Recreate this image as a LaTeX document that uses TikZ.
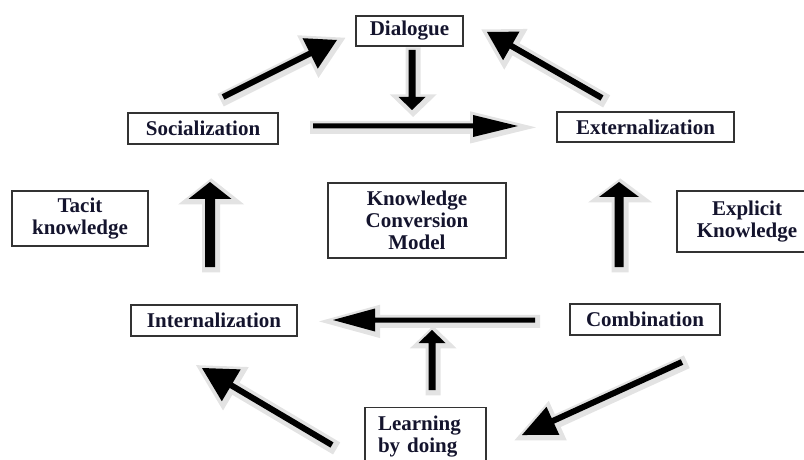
\documentclass[tikz,border=0pt]{standalone}
\usepackage{fontspec}
\setmainfont{Liberation Serif}
\usepackage{xcolor}
\usepackage{tikz}
\usetikzlibrary{calc}

\definecolor{boxtext}{RGB}{20,20,45}

\tikzset{
  box/.style={draw=black!80, line width=0.6pt, font=\fontsize{10.5}{11}\selectfont\bfseries,
    text=boxtext, align=center, inner sep=0pt},
  arrowbody/.style={fill=black, preaction={draw=gray!22, line width=4pt, line join=miter,
    transform canvas={shift={(0.6pt,-0.7pt)}}}}
}

% block arrow: tail, tip, half shaft, head length, half head
\newcommand{\fatarrow}[5]{%
  \coordinate (neck) at ($(#2)!#4!(#1)$);
  \path[arrowbody] ($(#1)!#3!90:(#2)$) -- ($(neck)!#3!-90:(#1)$) -- ($(neck)!#5!-90:(#1)$)
    -- (#2) -- ($(neck)!#5!90:(#1)$) -- ($(neck)!#3!90:(#1)$) -- ($(#1)!#3!-90:(#2)$) -- cycle;
}

\begin{document}
\begin{tikzpicture}[x=0.5pt, y=-0.5pt]
  \useasboundingbox (0,0) rectangle (804,460);

  % the four modes
  \node[box, minimum width=53.5pt, minimum height=15pt] (dia) at (409.5,31) {Dialogue};
  \node[box, minimum width=75pt, minimum height=15.5pt] (soc) at (203,128.5) {Socialization};
  \node[box, minimum width=88.5pt, minimum height=15pt] (ext) at (645.5,127) {Externalization};
  \node[box, minimum width=83pt, minimum height=15.5pt] (int) at (214,320.5) {Internalization};
  \node[box, minimum width=75pt, minimum height=15.5pt] (comb) at (645,319.5) {Combination};

  % side labels
  \node[box, minimum width=68pt, minimum height=27.5pt] (tacit) at (80,218.5) {Tacit\\knowledge};
  \node[box, minimum width=89pt, minimum height=37.5pt] (kcm) at (417,220.5) {Knowledge\\Conversion\\Model};
  \node[box, minimum width=70pt, minimum height=30.5pt] (expl) at (747,221.5) {Explicit\\Knowledge};
  \node[box, anchor=north, align=left, text width=47.5pt, inner xsep=6.5pt, inner ysep=4pt]
    (learn) at (425.5,407) {Learning\\by doing};

  % arrow ends
  \coordinate (s2d-a) at (223,97);   \coordinate (s2d-b) at (337,40);
  \coordinate (d2m-a) at (412,50);   \coordinate (d2m-b) at (412,110);
  \coordinate (s2e-a) at (313,126);  \coordinate (s2e-b) at (518,126);
  \coordinate (e2d-a) at (602,98);   \coordinate (e2d-b) at (487,32);
  \coordinate (c2e-a) at (619,267);  \coordinate (c2e-b) at (619,182);
  \coordinate (i2s-a) at (210,267);  \coordinate (i2s-b) at (210,182);
  \coordinate (c2i-a) at (535,320);  \coordinate (c2i-b) at (333,320);
  \coordinate (l2m-a) at (432,390);  \coordinate (l2m-b) at (432,330);
  \coordinate (c2l-a) at (682,362);  \coordinate (c2l-b) at (522,435);
  \coordinate (l2i-a) at (332,445);  \coordinate (l2i-b) at (202,368);

  % arrows
  \fatarrow{s2d-a}{s2d-b}{1.5pt}{15pt}{8.5pt}
  \fatarrow{d2m-a}{d2m-b}{1.75pt}{6.5pt}{6.75pt}
  \fatarrow{s2e-a}{s2e-b}{1.25pt}{22.5pt}{5.5pt}
  \fatarrow{e2d-a}{e2d-b}{1.5pt}{14pt}{8.25pt}
  \fatarrow{c2e-a}{c2e-b}{2.25pt}{7.5pt}{10pt}
  \fatarrow{i2s-a}{i2s-b}{2.5pt}{8.5pt}{10.75pt}
  \fatarrow{c2i-a}{c2i-b}{1.25pt}{21pt}{5.75pt}
  \fatarrow{l2m-a}{l2m-b}{1.75pt}{6.5pt}{6.75pt}
  \fatarrow{c2l-a}{c2l-b}{1.5pt}{17pt}{7.75pt}
  \fatarrow{l2i-a}{l2i-b}{1.5pt}{17pt}{9.25pt}
\end{tikzpicture}
\end{document}
